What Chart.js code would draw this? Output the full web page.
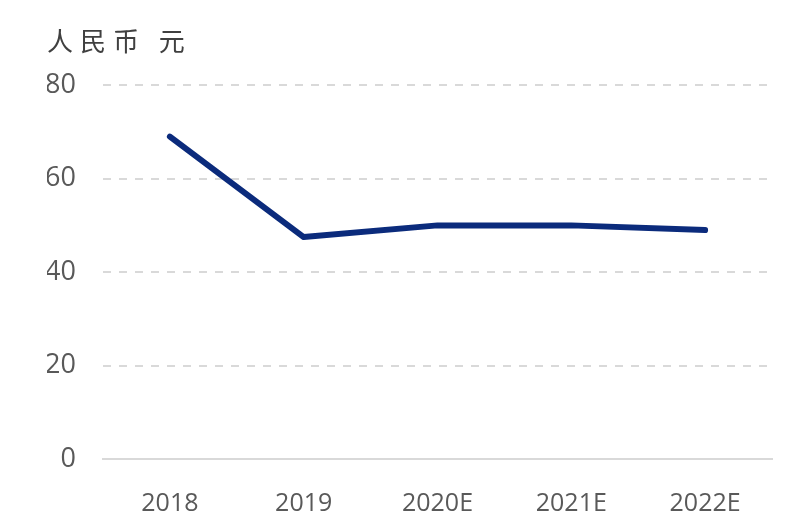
<!DOCTYPE html>
<html>
<head>
<meta charset="utf-8">
<script src="https://cdn.jsdelivr.net/npm/chart.js@4/dist/chart.umd.min.js"></script>
<style>
  html, body { margin: 0; padding: 0; background: #fff; }
  #wrap { width: 800px; height: 524px; }
</style>
</head>
<body>
<div id="wrap"><canvas id="chartLine" width="800" height="524"></canvas></div>
<script>
// values
const years = ["2018", "2019", "2020E", "2021E", "2022E"];
const prices = [69, 47.5, 50, 50, 49];
const yTicks = [0, 20, 40, 60, 80];
const unitLabel = "人民币 元";

const gridColor = "#d9d9d9";
const textColor = "#595959";

// wider letter spacing for the unit title, like the original
const titleSpacing = {
  id: "titleSpacing",
  afterInit(chart) {
    const t = chart.titleBlock;
    if (!t) return;
    const orig = t.draw;
    t.draw = function (area) {
      const ctx = chart.ctx;
      ctx.save();
      ctx.letterSpacing = "7px";
      orig.call(this, area);
      ctx.restore();
    };
  },
};

const config = {
  type: "line",
  data: {
    labels: years,
    datasets: [
      {
        label: unitLabel,
        data: prices,
        borderColor: "#0b2b7c",
        borderWidth: 6,
        borderCapStyle: "round",
        borderJoinStyle: "round",
        pointRadius: 0,
        tension: 0,
        fill: false,
      },
    ],
  },
  options: {
    responsive: false,
    animation: false,
    layout: { padding: { top: 26, left: 47, right: 28, bottom: 13 } },
    plugins: {
      legend: { display: false },
      tooltip: { enabled: false },
      title: {
        display: true,
        text: unitLabel,
        align: "start",
        color: "#404040",
        font: { family: "'Noto Sans CJK SC', sans-serif", size: 26, weight: "normal" },
        padding: { top: 0, bottom: 28 },
      },
    },
    scales: {
      x: {
        offset: true,
        grid: { display: false },
        border: { display: true, color: gridColor, width: 2 },
        afterFit: (scale) => {
          scale.height = 52;
        },
        ticks: {
          color: textColor,
          padding: 22,
          font: { family: "'Open Sans', sans-serif", size: 25 },
        },
      },
      y: {
        min: 0,
        max: 80,
        afterBuildTicks: (scale) => {
          scale.ticks = yTicks.map((v) => ({ value: v }));
        },
        afterFit: (scale) => {
          scale.width = 56;
        },
        border: { display: false, dash: [8, 8] },
        grid: {
          color: (ctx) => (ctx.tick && ctx.tick.value === 0 ? "rgba(0,0,0,0)" : gridColor),
          lineWidth: 2,
          drawTicks: false,
        },
        ticks: {
          color: textColor,
          padding: 27,
          font: { family: "'Open Sans', sans-serif", size: 27 },
        },
      },
    },
  },
  plugins: [titleSpacing],
};

new Chart(document.getElementById("chartLine"), config);
</script>
</body>
</html>
